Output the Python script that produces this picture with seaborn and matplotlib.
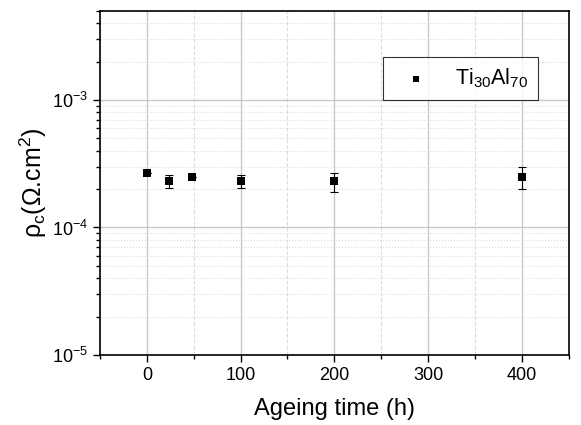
import numpy as np
import pandas as pd
import matplotlib
matplotlib.use("Agg")
import matplotlib.pyplot as plt
import seaborn as sns
from matplotlib.ticker import LogLocator, MultipleLocator, NullFormatter

# data
ageing_time = [0, 24, 48, 100, 200, 400]
rho_c = [2.7e-4, 2.3e-4, 2.5e-4, 2.3e-4, 2.3e-4, 2.5e-4]
err_low = [0.0, 0.25e-4, 0.0, 0.25e-4, 0.4e-4, 0.5e-4]
err_high = [0.0, 0.27e-4, 0.0, 0.27e-4, 0.4e-4, 0.5e-4]

data = pd.DataFrame({"time": ageing_time, "rho": rho_c})

sns.set_style("ticks")
plt.rcParams["font.family"] = ["Liberation Sans", "DejaVu Sans"]
plt.rcParams["mathtext.fontset"] = "custom"
plt.rcParams["mathtext.rm"] = "Liberation Sans"
plt.rcParams["mathtext.it"] = "Liberation Sans:italic"
plt.rcParams["mathtext.default"] = "regular"
plt.rcParams["text.color"] = "black"
plt.rcParams["axes.labelcolor"] = "black"
plt.rcParams["xtick.color"] = "black"
plt.rcParams["ytick.color"] = "black"

fig = plt.figure(figsize=(5.81, 4.25), dpi=100)
ax = fig.add_axes([0.172, 0.165, 0.807, 0.809])

ax.errorbar(ageing_time, rho_c, yerr=[err_low, err_high], fmt="none",
            ecolor="black", elinewidth=0.8, capsize=3, capthick=0.8, zorder=3)
sns.scatterplot(data=data, x="time", y="rho", marker="s", s=28, color="black",
                edgecolor="black", linewidth=0, label="Ti$_{30}$Al$_{70}$", ax=ax, zorder=4)

ax.set_yscale("log")
ax.set_xlim(-50, 450)
ax.set_ylim(1e-5, 5e-3)

ax.xaxis.set_major_locator(MultipleLocator(100))
ax.xaxis.set_minor_locator(MultipleLocator(50))
ax.yaxis.set_major_locator(LogLocator(base=10, numticks=10))
ax.yaxis.set_minor_locator(LogLocator(base=10, subs=np.arange(2, 10), numticks=10))
ax.yaxis.set_minor_formatter(NullFormatter())

ax.grid(which="major", color="#c8c8c8", linewidth=1.0, linestyle="-")
ax.grid(which="minor", axis="x", color="#dddddd", linewidth=0.8, linestyle="--")
ax.grid(which="minor", axis="y", color="#dddddd", linewidth=0.8, linestyle=":")
ax.set_axisbelow(True)

ax.tick_params(which="major", direction="out", length=5, width=1, labelsize=13)
ax.tick_params(which="minor", direction="out", length=3, width=1)
for sp in ax.spines.values():
    sp.set_linewidth(1.2)
    sp.set_color("black")

ax.set_xlabel("Ageing time (h)", fontsize=17, labelpad=10)
ax.set_ylabel("ρ$_c$(Ω.cm$^2$)", fontsize=18, labelpad=2)

leg = ax.legend(loc="upper right", bbox_to_anchor=(0.934, 0.866), borderaxespad=0,
                fontsize=15.5, frameon=True, fancybox=False, edgecolor="black",
                markerscale=0.75, handletextpad=0.7, borderpad=0.45, handlelength=2.2)
leg.get_frame().set_linewidth(0.8)

fig.savefig("out.png", dpi=100)
